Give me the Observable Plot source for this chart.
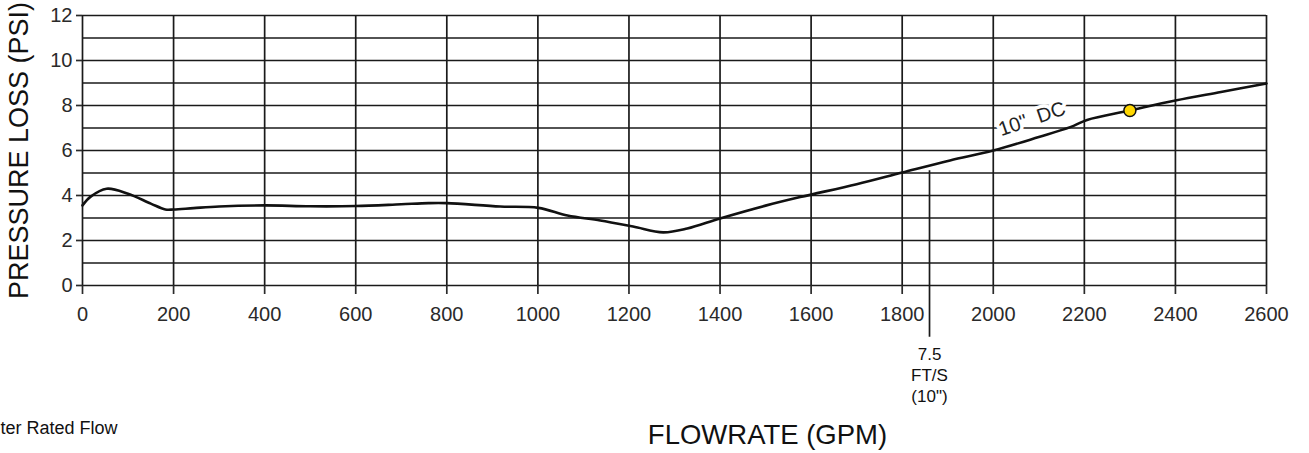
<!DOCTYPE html>
<html>
<head>
<meta charset="utf-8">
<script src="https://cdn.jsdelivr.net/npm/d3@7"></script>
<script src="https://cdn.jsdelivr.net/npm/@observablehq/plot@0.6"></script>
<style>
  html, body { margin: 0; padding: 0; background: #fff; }
  #chart { width: 1309px; height: 453px; }
</style>
</head>
<body>
<div id="chart"></div>
<script>
// ---- data ----
const xTicks = [0, 200, 400, 600, 800, 1000, 1200, 1400, 1600, 1800, 2000, 2200, 2400, 2600];
const yTicks = [0, 2, 4, 6, 8, 10, 12];
const yGrid = [0, 1, 2, 3, 4, 5, 6, 7, 8, 9, 10, 11, 12];

const flow = [0, 18, 53, 100, 150, 182, 200, 244, 300, 400, 500, 600, 700, 760, 800, 917, 1001, 1065, 1137, 1209, 1275, 1328, 1400, 1500, 1576, 1700, 1800, 1905, 2000, 2100, 2169, 2206, 2300, 2400, 2500, 2600];
const psi  = [3.56, 3.95, 4.3, 4.08, 3.64, 3.38, 3.38, 3.44, 3.51, 3.56, 3.52, 3.53, 3.61, 3.66, 3.66, 3.51, 3.45, 3.11, 2.89, 2.62, 2.36, 2.53, 2.98, 3.55, 3.93, 4.5, 5.02, 5.56, 6.0, 6.6, 7.04, 7.36, 7.78, 8.22, 8.6, 8.98];

const ratedFlow = [2300];
const ratedPsi = [7.78];
const velocityFlow = [1860];
const velocityTop = [5.1];
const velocityBottom = [-2.3];
const velocityLabel = "7.5\nFT/S\n(10\")";
const curveLabel = "10\"\u00a0\u00a0DC";
const curveLabelAt = {x: 2085, y: 7.4};

const xTitle = "FLOWRATE (GPM)";
const yTitle = "PRESSURE LOSS (PSI)";
const footNote = "ter Rated Flow";

const curve = flow.map((f, i) => ({flow: f, psi: psi[i]}));
const rated = ratedFlow.map((f, i) => ({flow: f, psi: ratedPsi[i]}));
const velocity = velocityFlow.map((f, i) => ({flow: f, top: velocityTop[i], bottom: velocityBottom[i]}));

const ink = "#1a1a1a";
const font = "'Liberation Sans', Arial, sans-serif";

const chart = Plot.plot({
  width: 1309,
  height: 453,
  marginLeft: 82,
  marginRight: 43,
  marginTop: 15,
  marginBottom: 168,
  style: {fontFamily: font, background: "#fff", overflow: "visible"},
  x: {domain: [0, 2600]},
  y: {domain: [0, 12]},
  marks: [
    Plot.ruleY(yGrid, {stroke: ink, strokeWidth: 1.7}),
    Plot.ruleX(xTicks, {stroke: ink, strokeWidth: 1.7}),
    Plot.axisX({ticks: xTicks, tickSize: 9, tickPadding: 12, fontSize: 20, color: "#2a2a2a", strokeWidth: 1.7, label: null, tickFormat: d => String(d)}),
    Plot.axisY({ticks: yTicks, tickSize: 6, tickPadding: 4, fontSize: 20, color: "#2a2a2a", strokeWidth: 1.7, label: null, tickFormat: d => String(d)}),
    Plot.ruleX(velocity, {x: "flow", y1: "top", y2: "bottom", stroke: ink, strokeWidth: 1.7}),
    Plot.text(velocity, {x: "flow", frameAnchor: "bottom", dy: 59, lineAnchor: "top", lineHeight: 1.25, fontSize: 17, fill: "#111", text: () => velocityLabel}),
    Plot.text([curveLabelAt], {x: "x", y: "y", text: () => curveLabel, rotate: -19, fontSize: 20, fill: "#222", stroke: "white", strokeWidth: 7}),
    Plot.line(curve, {x: "flow", y: "psi", stroke: "#111", strokeWidth: 2.6, curve: "catmull-rom"}),
    Plot.dot(rated, {x: "flow", y: "psi", r: 6, fill: "#FFD700", stroke: "#111", strokeWidth: 1.5}),
    Plot.text([yTitle], {frameAnchor: "left", dx: -63, rotate: -90, textAnchor: "middle", fontSize: 27, fill: "#111", text: d => d}),
    Plot.text([xTitle], {frameAnchor: "bottom", dx: 93, dy: 158, textAnchor: "middle", fontSize: 27.5, fill: "#111", text: d => d}),
    Plot.text([footNote], {frameAnchor: "bottom-left", dx: -82, dy: 148, textAnchor: "start", fontSize: 18, fill: "#111", text: d => d})
  ]
});
document.getElementById("chart").appendChild(chart);
</script>
</body>
</html>
